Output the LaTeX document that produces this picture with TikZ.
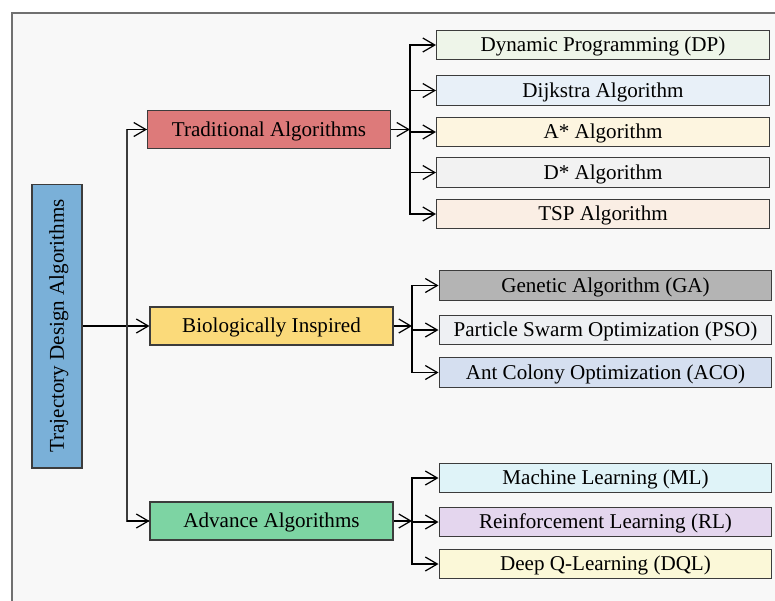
\documentclass[tikz,border=0pt]{standalone}
\usepackage{fontspec}
\setmainfont{Liberation Serif}
\usepackage{xcolor}
\usepackage{tikz}
\usetikzlibrary{arrows.meta, positioning, calc}
\definecolor{framegray}{RGB}{112,112,112}
\definecolor{bggray}{RGB}{248,248,248}
\definecolor{edgedark}{RGB}{60,60,60}
\definecolor{rootblue}{RGB}{122,176,216}
\definecolor{tradred}{RGB}{221,122,122}
\definecolor{bioyellow}{RGB}{251,218,122}
\definecolor{advgreen}{RGB}{125,212,163}
\definecolor{dpgreen}{RGB}{238,245,233}
\definecolor{dijblue}{RGB}{232,240,248}
\definecolor{astaryellow}{RGB}{253,245,224}
\definecolor{dstargray}{RGB}{242,242,242}
\definecolor{tsppeach}{RGB}{250,238,228}
\definecolor{gagray}{RGB}{180,180,180}
\definecolor{psogray}{RGB}{238,240,243}
\definecolor{acoblue}{RGB}{213,223,240}
\definecolor{mlcyan}{RGB}{223,243,248}
\definecolor{rlpurple}{RGB}{228,214,238}
\definecolor{dqlyellow}{RGB}{251,248,216}
\tikzset{
  rootbox/.style={rectangle, draw=edgedark, fill=rootblue, rotate=90,
    minimum width=5.68cm, minimum height=1.0cm, inner sep=0pt,
    text height=1.7ex, text depth=0ex,
    font=\fontsize{12}{14}\selectfont, line width=0.6pt},
  catbox/.style={rectangle, draw=edgedark, minimum width=4.86cm,
    minimum height=0.76cm, inner sep=0pt,
    text height=1.7ex, text depth=0ex,
    font=\fontsize{12}{14}\selectfont, line width=0.6pt},
  leafbox/.style={rectangle, draw=edgedark, minimum width=6.66cm,
    minimum height=0.59cm, inner sep=0pt,
    text height=1.7ex, text depth=0ex,
    font=\fontsize{12}{14}\selectfont, line width=0.6pt},
  arrow/.style={-{Straight Barb[length=2.4mm, width=2.8mm]}, line width=0.7pt, color=black},
  trunk/.style={line width=0.7pt, color=edgedark}
}

\begin{document}
\begin{tikzpicture}[x=0.02cm, y=-0.02cm]
  \useasboundingbox (0,0) rectangle (775,600);
  \fill[bggray, draw=framegray, line width=1.2pt] (12,13) rectangle (800,630);

  % root and categories
  \node[rootbox] (root) at (57,326) {Trajectory Design Algorithms};
  \node[catbox, fill=tradred] (trad) at (269,129.5) {Traditional Algorithms};
  \node[catbox, fill=bioyellow] (bio) at (271.5,326) {Biologically Inspired};
  \node[catbox, fill=advgreen] (adv) at (271.5,521) {Advance Algorithms};

  % traditional leaves
  \node[leafbox, fill=dpgreen] (dp) at (603,45) {Dynamic Programming (DP)};
  \node[leafbox, fill=dijblue] (dij) at (603,90.5) {Dijkstra Algorithm};
  \node[leafbox, fill=astaryellow] (astar) at (603,132) {A* Algorithm};
  \node[leafbox, fill=dstargray] (dstar) at (603,172.5) {D* Algorithm};
  \node[leafbox, fill=tsppeach] (tsp) at (603,214) {TSP Algorithm};

  % bio leaves
  \node[leafbox, fill=gagray] (ga) at (605.5,285.5) {Genetic Algorithm (GA)};
  \node[leafbox, fill=psogray] (pso) at (605.5,330) {Particle Swarm Optimization (PSO)};
  \node[leafbox, fill=acoblue] (aco) at (605.5,372.5) {Ant Colony Optimization (ACO)};

  % advance leaves
  \node[leafbox, fill=mlcyan] (ml) at (605.5,478) {Machine Learning (ML)};
  \node[leafbox, fill=rlpurple] (rl) at (605.5,522) {Reinforcement Learning (RL)};
  \node[leafbox, fill=dqlyellow] (dql) at (605.5,564) {Deep Q-Learning (DQL)};

  % junctions
  \coordinate (jroot) at (127,326);
  \coordinate (jtrad) at (410,131);
  \coordinate (jbio) at (412,326);
  \coordinate (jadv) at (412,521);

  \draw[arrow] (root.south) -- (bio.west);
  \draw[trunk] (jroot) |- (trad.west);
  \draw[trunk] (jroot) |- (adv.west);
  \draw[arrow] (jroot |- trad.west) -- (trad.west);
  \draw[arrow] (jroot |- adv.west) -- (adv.west);

  \draw[arrow] (trad.east) -- (trad.east -| jtrad);
  \foreach \n in {dp,dij,astar,dstar,tsp}
    \draw[arrow] (jtrad) |- (\n.west);

  \draw[arrow] (bio.east) -- (jbio);
  \foreach \n in {ga,pso,aco}
    \draw[arrow] (jbio) |- (\n.west);

  \draw[arrow] (adv.east) -- (jadv);
  \foreach \n in {ml,rl,dql}
    \draw[arrow] (jadv) |- (\n.west);
\end{tikzpicture}
\end{document}
